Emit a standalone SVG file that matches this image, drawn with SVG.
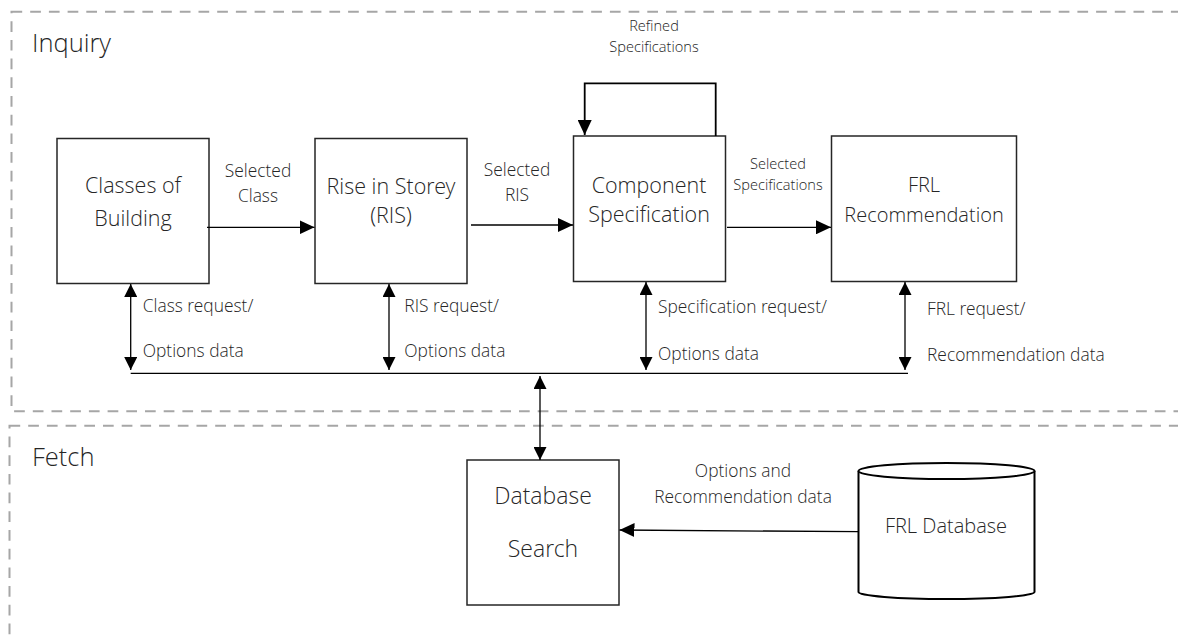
<svg xmlns="http://www.w3.org/2000/svg" width="1178" height="637" viewBox="0 0 1178 637">
  <style>
    text { font-family: "Open Sans Light", "Open Sans", "Noto Sans", "Liberation Sans", sans-serif; font-weight: 300; fill: #262626; }
    .frame { fill: none; stroke: #a6a6a6; stroke-width: 2; stroke-dasharray: 10.7 8; }
    .title { font-size: 25.5px; }
    .box { fill: #ffffff; stroke: #262626; stroke-width: 1.5; }
    .node { font-size: 21.5px; text-anchor: middle; }
    .node-s { font-size: 20px; text-anchor: middle; }
    .node-l { font-size: 23px; text-anchor: middle; }
    .lbl { font-size: 17.4px; }
    .mid { text-anchor: middle; }
    .sm { font-size: 14.6px; text-anchor: middle; }
    .wire { fill: none; stroke: #000000; stroke-width: 1.3; }
    .loop { fill: none; stroke: #000000; stroke-width: 1.8; }
    .db { fill: #ffffff; stroke: #000000; stroke-width: 2; }
  </style>
  <defs>
    <marker id="arrow" viewBox="0 0 15 14" refX="15" refY="7" markerWidth="15" markerHeight="14" markerUnits="userSpaceOnUse" orient="auto-start-reverse">
      <path d="M0,0 L15,7 L0,14 z" fill="#000000"/>
    </marker>
    <marker id="arrowS" viewBox="0 0 13 13" refX="13" refY="6.5" markerWidth="13" markerHeight="13" markerUnits="userSpaceOnUse" orient="auto-start-reverse">
      <path d="M0,0 L13,6.5 L0,13 z" fill="#000000"/>
    </marker>
  </defs>

  <rect width="1178" height="637" fill="#ffffff"/>

  <!-- swimlanes -->
  <g id="lane-inquiry">
    <rect class="frame" x="11.5" y="11.7" width="1200" height="399.6"/>
    <text class="title" x="32" y="52">Inquiry</text>
  </g>
  <g id="lane-fetch">
    <rect class="frame" x="9.5" y="425.7" width="1200" height="260"/>
    <text class="title" x="32" y="466">Fetch</text>
  </g>

  <!-- nodes -->
  <g id="classes-of-building">
    <rect class="box" x="57" y="138.5" width="152" height="145"/>
    <text class="node" x="133" y="193">Classes of</text>
    <text class="node" x="133" y="226">Building</text>
  </g>
  <g id="rise-in-storey">
    <rect class="box" x="315" y="138.5" width="152" height="145"/>
    <text class="node" x="391" y="194">Rise in Storey</text>
    <text class="node" x="391" y="223">(RIS)</text>
  </g>
  <g id="component-specification">
    <rect class="box" x="573.5" y="136" width="152" height="145.5"/>
    <text class="node" x="649" y="192.5">Component</text>
    <text class="node" x="649" y="221.5">Specification</text>
  </g>
  <g id="frl-recommendation">
    <rect class="box" x="831.5" y="136" width="185" height="145.5"/>
    <text class="node-s" x="924" y="192">FRL</text>
    <text class="node-s" x="924" y="221.5">Recommendation</text>
  </g>
  <g id="database-search">
    <rect class="box" x="467" y="460" width="152" height="145"/>
    <text class="node-l" x="543" y="504">Database</text>
    <text class="node-l" x="543" y="556.7">Search</text>
  </g>
  <g id="frl-database">
    <path class="db" d="M858.5,471 V592 A88,7 0 0 0 1034.5,592 V471 A88,8 0 0 0 858.5,471 Z"/>
    <path class="db" d="M858.5,471 A88,8 0 0 0 1034.5,471" fill="none"/>
    <text class="node-s" x="946" y="532.7">FRL Database</text>
  </g>

  <!-- connectors -->
  <g id="connectors">
    <line class="wire" x1="207" y1="227.3" x2="314.5" y2="227.3" marker-end="url(#arrow)"/>
    <line class="wire" x1="471" y1="225" x2="573" y2="225" marker-end="url(#arrow)"/>
    <line class="wire" x1="727" y1="227.3" x2="831" y2="227.3" marker-end="url(#arrow)"/>
    <path class="loop" d="M715.7,136 V83.3 H584.7 V135" marker-end="url(#arrow)"/>

    <line class="wire" x1="130.7" y1="284" x2="130.7" y2="370" marker-start="url(#arrowS)" marker-end="url(#arrowS)"/>
    <line class="wire" x1="389" y1="284" x2="389" y2="370" marker-start="url(#arrowS)" marker-end="url(#arrowS)"/>
    <line class="wire" x1="646" y1="282" x2="646" y2="370" marker-start="url(#arrowS)" marker-end="url(#arrowS)"/>
    <line class="wire" x1="905" y1="282" x2="905" y2="370" marker-start="url(#arrowS)" marker-end="url(#arrowS)"/>
    <line class="wire" x1="130.7" y1="373.3" x2="908" y2="373.3"/>

    <line class="wire" x1="540" y1="376" x2="540" y2="460" marker-start="url(#arrowS)" marker-end="url(#arrowS)"/>
    <line class="wire" x1="858.5" y1="531.7" x2="619.5" y2="530" marker-end="url(#arrow)"/>

    <text class="lbl mid" x="258" y="177">Selected</text>
    <text class="lbl mid" x="258" y="202">Class</text>
    <text class="lbl mid" x="517" y="175.7">Selected</text>
    <text class="lbl mid" x="517" y="201">RIS</text>
    <text class="sm" x="654" y="31">Refined</text>
    <text class="sm" x="654" y="52">Specifications</text>
    <text class="sm" x="778" y="169">Selected</text>
    <text class="sm" x="778" y="190">Specifications</text>

    <text class="lbl" x="142.7" y="311.7">Class request/</text>
    <text class="lbl" x="142.7" y="357.3">Options data</text>
    <text class="lbl" x="404.3" y="311.7">RIS request/</text>
    <text class="lbl" x="404.3" y="357.3">Options data</text>
    <text class="lbl" x="658" y="313.3">Specification request/</text>
    <text class="lbl" x="658" y="360">Options data</text>
    <text class="lbl" x="927" y="315">FRL request/</text>
    <text class="lbl" x="927" y="360.7">Recommendation data</text>

    <text class="lbl mid" x="743" y="477.3">Options and</text>
    <text class="lbl mid" x="743" y="502.7">Recommendation data</text>
  </g>
</svg>
